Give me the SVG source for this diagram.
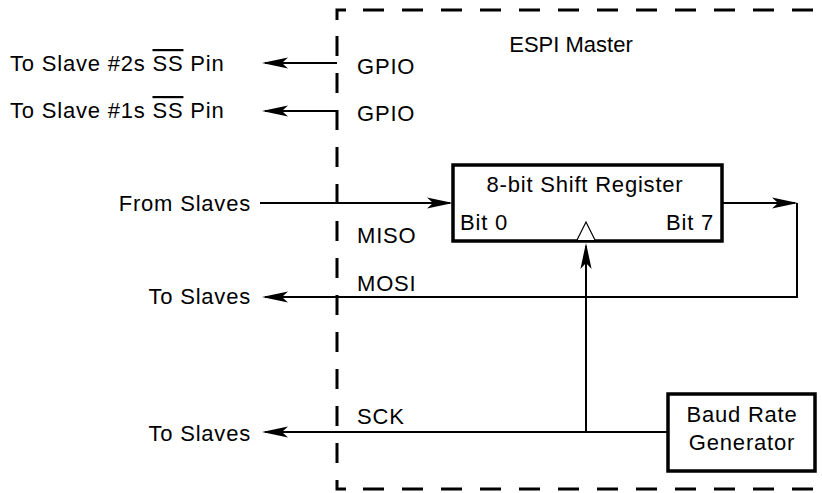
<svg xmlns="http://www.w3.org/2000/svg" width="822" height="493" viewBox="0 0 822 493">
<defs>
<style>
text{font-family:"Liberation Sans",Arial,Helvetica,sans-serif;font-size:22px;fill:#000;letter-spacing:0.8px}
.title{letter-spacing:0}
.box{fill:#fff;stroke:#000;stroke-width:3.5}
.wire{fill:none;stroke:#000;stroke-width:2}
.dash{fill:none;stroke:#000;stroke-width:3}
.ol{text-decoration:overline}
</style>
<marker id="arr" markerUnits="userSpaceOnUse" markerWidth="26" markerHeight="12" viewBox="0 0 26 12" refX="23" refY="6" orient="auto" overflow="visible">
<path d="M0,0.4 L26,6 L0,11.6 L6,6 Z" fill="#000"/>
</marker>
</defs>
<g id="master-boundary">
<path class="dash" d="M337,20 V10 H346"/>
<path class="dash" d="M337,480 V489 H346"/>
<path class="dash" d="M363,10 H822" stroke-dasharray="21 18"/>
<path class="dash" d="M337,36 V463" stroke-dasharray="20 17"/>
<path class="dash" d="M363,489 H822" stroke-dasharray="21 18"/>
<text class="title" x="571" y="52" text-anchor="middle">ESPI Master</text>
</g>
<g id="connectors">
<path class="wire" d="M337,63 H265" marker-end="url(#arr)"/>
<path class="wire" d="M337,111 H265" marker-end="url(#arr)"/>
<path class="wire" d="M260,203 H450" marker-end="url(#arr)"/>
<path class="wire" d="M722,203 H795" marker-end="url(#arr)"/>
<path class="wire" d="M797,203 V297 H265" marker-end="url(#arr)"/>
<path class="wire" d="M668,432 H265" marker-end="url(#arr)"/>
<path class="wire" d="M586,432 V246" marker-end="url(#arr)"/>
</g>
<g id="slave2-ss">
<text x="10" y="71">To Slave #2s <tspan class="ol">SS</tspan> Pin</text>
</g>
<g id="slave1-ss">
<text x="10" y="118">To Slave #1s <tspan class="ol">SS</tspan> Pin</text>
</g>
<g id="gpio2"><text x="357" y="74">GPIO</text></g>
<g id="gpio1"><text x="357" y="121">GPIO</text></g>
<g id="from-slaves"><text x="251" y="211" text-anchor="end">From Slaves</text></g>
<g id="miso"><text x="357" y="243">MISO</text></g>
<g id="mosi"><text x="357" y="291">MOSI</text></g>
<g id="to-slaves-mosi"><text x="251" y="304" text-anchor="end">To Slaves</text></g>
<g id="sck"><text x="357" y="424">SCK</text></g>
<g id="to-slaves-sck"><text x="251" y="441" text-anchor="end">To Slaves</text></g>
<g id="shift-register">
<rect class="box" x="453" y="165" width="269" height="76"/>
<text x="585" y="192" text-anchor="middle">8-bit Shift Register</text>
<text x="460" y="230">Bit 0</text>
<text x="714" y="230" text-anchor="end">Bit 7</text>
<path d="M577,240 L586,222 L595,240" fill="#fff" stroke="#000" stroke-width="1.2"/>
</g>
<g id="baud-rate-generator">
<rect class="box" x="668" y="394" width="147" height="77"/>
<text x="742" y="422" text-anchor="middle">Baud Rate</text>
<text x="742" y="450" text-anchor="middle">Generator</text>
</g>
</svg>
